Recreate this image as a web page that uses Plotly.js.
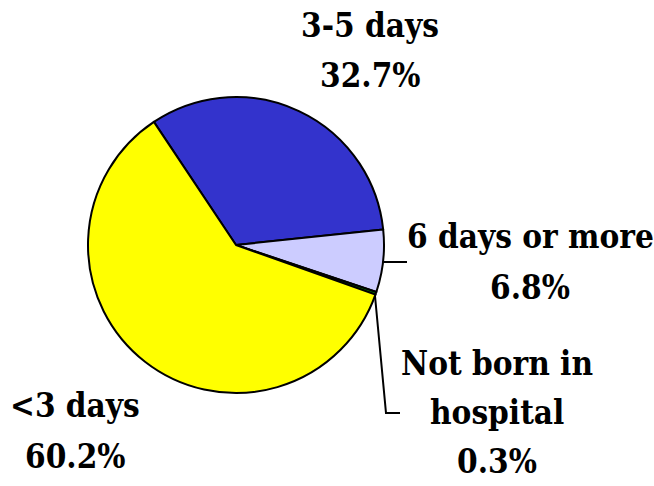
<!DOCTYPE html>
<html>
<head>
<meta charset="utf-8">
<script src="https://cdn.plot.ly/plotly-3.0.1.min.js"></script>
<style>html,body{margin:0;padding:0;background:#fff;}#chart{width:654px;height:486px;}</style>
</head>
<body>
<div id="chart"></div>
<script>
const categories = ["3-5 days", "6 days or more", "Not born in hospital", "<3 days"];
const labelLines = [["3-5 days"], ["6 days or more"], ["Not born in", "hospital"], ["&lt;3 days"]];
const values = [32.7, 6.8, 0.3, 60.2];
const colors = ["#3333CC", "#CCCCFF", "#008000", "#FFFF00"];

const W = 654, H = 486;
const px = x => x / W;
const py = y => 1 - y / H;

const FONT = 'DejaVu Serif Condensed, DejaVu Serif';
const cx = 236, cy = 245, r = 148;
// label block: center x, y of first line (cap centre), line pitch
const labelPos = [[370, 24, 51], [530, 235, 51], [497, 362, 49], [75, 404, 51]];

const annotations = [];
categories.forEach((c, i) => {
  const lines = labelLines[i].concat([values[i].toFixed(1) + '%']);
  lines.forEach((t, j) => {
    annotations.push({
      xref: 'paper', yref: 'paper',
      x: px(labelPos[i][0]), y: py(labelPos[i][1] + j * labelPos[i][2] + 1),
      xanchor: 'center', yanchor: 'middle',
      borderpad: 0,
      text: '<b>' + t + '</b>',
      showarrow: false,
      font: {family: FONT, size: 33, color: '#000'}
    });
  });
});

const shapes = [
  {type: 'line', xref: 'paper', yref: 'paper', x0: px(383), y0: py(262), x1: px(407), y1: py(262), line: {color: '#000', width: 2}},
  {type: 'path', xref: 'paper', yref: 'paper',
   path: `M ${px(375)} ${py(296)} L ${px(386)} ${py(413)} L ${px(400)} ${py(413)}`,
   line: {color: '#000', width: 2}}
];

const data = [{
  type: 'pie',
  labels: categories,
  values: values,
  sort: false,
  direction: 'clockwise',
  rotation: -33.7,
  marker: {colors: colors, line: {color: '#000', width: 2}},
  textinfo: 'none',
  hoverinfo: 'label+percent',
  domain: {x: [px(cx - r), px(cx + r)], y: [py(cy + r), py(cy - r)]}
}];

const layout = {
  width: W, height: H,
  margin: {l: 0, r: 0, t: 0, b: 0},
  paper_bgcolor: '#fff',
  showlegend: false,
  annotations: annotations,
  shapes: shapes
};

Plotly.newPlot('chart', data, layout, {displayModeBar: false, staticPlot: true});
</script>
</body>
</html>
